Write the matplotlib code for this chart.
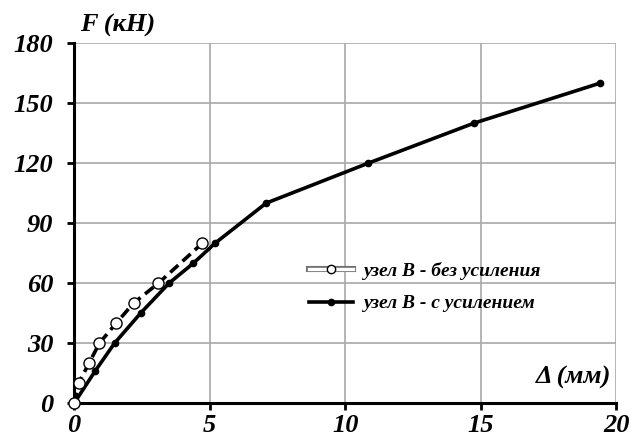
import matplotlib
matplotlib.use("Agg")
import matplotlib.pyplot as plt
import matplotlib.patheffects as pe
from matplotlib.lines import Line2D

# data
x_bez = [0, 0.16, 0.55, 0.93, 1.55, 2.19, 3.11, 4.73]
f_bez = [0, 10, 20, 30, 40, 50, 60, 80]
x_us = [0, 0.77, 1.49, 2.45, 3.5, 4.4, 5.2, 7.08, 10.85, 14.75, 19.4]
f_us = [0, 16, 30, 45, 60, 70, 80, 100, 120, 140, 160]
xticks = [0, 5, 10, 15, 20]
yticks = [0, 30, 60, 90, 120, 150, 180]
lab_bez = 'узел В - без усиления'
lab_us = 'узел В - с усилением'

plt.rcParams['font.family'] = ['Liberation Serif', 'DejaVu Serif']

fig = plt.figure(figsize=(6.34, 4.45), dpi=100)
ax = fig.add_axes([0.117, 0.094, 0.855, 0.809])

ax.plot(x_us, f_us, color='black', lw=2.6, marker='o', ms=4.5, zorder=3, clip_on=False)
ax.plot(x_bez, f_bez, color='black', lw=2.6, ls=(0, (3, 1.6)), marker='o',
        ms=8, mfc='white', mec='black', mew=1.0, zorder=4, clip_on=False)

ax.set_xlim(0, 20)
ax.set_ylim(0, 180)
ax.set_xticks(xticks)
ax.set_yticks(yticks)
ax.grid(True, color='#a8a8a8', lw=1.2)
ax.set_axisbelow(True)
for s in ['top', 'right']:
    ax.spines[s].set_visible(False)
for s in ['left', 'bottom']:
    ax.spines[s].set_linewidth(2.2)
ax.tick_params(axis='both', direction='out', length=5, width=2, labelsize=19)
ax.tick_params(axis='x', pad=3)
ax.tick_params(axis='y', pad=10)
for t in ax.get_xticklabels() + ax.get_yticklabels():
    t.set_fontweight('bold')
    t.set_fontstyle('italic')

fig.text(0.127, 0.93, 'F (кН)', fontsize=19, fontweight='bold', fontstyle='italic')
ax.text(0.99, 0.04, 'Δ (мм)', transform=ax.transAxes, ha='right', va='bottom',
        fontsize=19, fontweight='bold', fontstyle='italic')

h1_line = Line2D([], [], color='white', lw=2.4,
                 path_effects=[pe.Stroke(linewidth=4.4, foreground='#707070'), pe.Normal()])
h1_mark = Line2D([], [], ls='none', marker='o', ms=6, mfc='white', mec='black', mew=1.0)
h2 = Line2D([], [], color='black', lw=2.6, marker='o', ms=4.5)
leg = ax.legend([(h1_line, h1_mark), h2], [lab_bez, lab_us], loc='upper left',
                bbox_to_anchor=(0.40, 0.44), frameon=False, handlelength=2.3,
                handletextpad=0.55, labelspacing=0.75,
                prop={'style': 'italic', 'weight': 'bold', 'size': 14})

fig.savefig('out.png', dpi=100)
